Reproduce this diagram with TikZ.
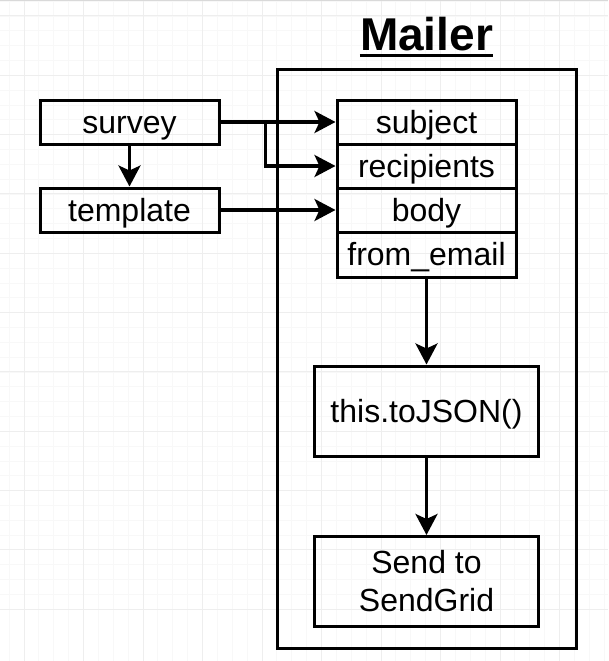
\documentclass[tikz,border=0pt]{standalone}
\usepackage{fontspec}
\setmainfont{Liberation Sans}
\usetikzlibrary{arrows.meta}
\definecolor{gridmajor}{HTML}{EEEEEE}
\definecolor{gridminor}{HTML}{F8F8F8}
\begin{document}
\begin{tikzpicture}[x=1pt,y=-1pt,
  box/.style={draw, line width=3pt, inner sep=0pt,
    font=\fontsize{32}{38}\selectfont, text height=29pt, text depth=6.8pt},
  field/.style={box, minimum width=179pt, minimum height=44pt},
  bigbox/.style={draw, line width=3pt, inner sep=0pt, align=center,
    font=\fontsize{32}{38}\selectfont, minimum width=224pt, minimum height=90pt},
  arr/.style={line width=3.2pt, -{Stealth[length=21pt,width=22pt,inset=5pt]}},
  gmin/.style={gridminor, line width=0.8pt},
  gmaj/.style={gridmajor, line width=1pt}]
\useasboundingbox (0,0) rectangle (608,661);
\fill[white] (0,0) rectangle (608,661);
% grid
\foreach \i in {-1,...,40} {
  \draw[gmin] ({24+14.875*\i},0) -- ({24+14.875*\i},661);
  \draw[gmin] (0,{16+14.83*\i}) -- (608,{16+14.83*\i});
}
\foreach \i in {0,...,10} {
  \draw[gmaj] ({24+59.5*\i},0) -- ({24+59.5*\i},661);
  \draw[gmaj] (0,{16+59.3*\i}) -- (608,{16+59.3*\i});
}
\draw[black!15, line width=1.5pt] (0,0.75) -- (608,0.75);
% title
\node[font=\bfseries\fontsize{46}{50}\selectfont, inner sep=0pt, anchor=base] (title) at (426.5,51) {Mailer};
\draw[line width=3pt] ([yshift=-4.5pt]title.base west) -- ([yshift=-4.5pt]title.base east);
% outer box
\node[draw, line width=3pt, inner sep=0pt, minimum width=299pt, minimum height=578pt] (mailer) at (426.5,359) {};
% left boxes
\node[field] (survey) at (129.5,122) {survey};
\node[field] (template) at (129.5,210) {template};
% fields
\node[field] (subject) at (426.5,122) {subject};
\node[field] (recipients) at (426.5,166) {recipients};
\node[field] (body) at (426.5,210) {body};
\node[field, minimum height=45pt] (from) at (426.5,254.5) {from\_email};
% lower boxes
\node[bigbox, text height=29pt, text depth=6.8pt] (json) at (426.5,411) {this.toJSON()};
\node[bigbox] (send) at (426.5,581.5) {Send to\\SendGrid};
% connectors
\draw[arr] (survey.east) -- (subject.west);
\draw[arr] (survey.east) -- ++(45,0) |- (recipients.west);
\draw[arr] (template.east) -- (body.west);
\draw[arr] (survey.south) -- (template.north);
\draw[arr] (from.south) -- (json.north);
\draw[arr] (json.south) -- (send.north);
\end{tikzpicture}
\end{document}
